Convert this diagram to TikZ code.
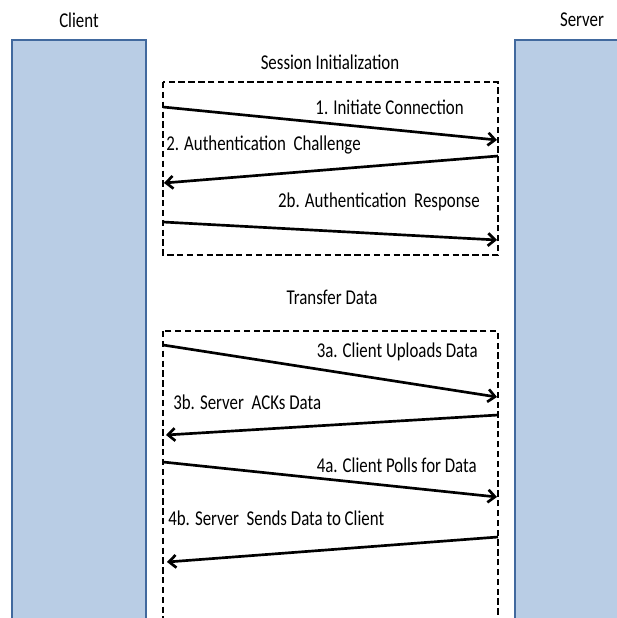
\documentclass[tikz,border=0pt]{standalone}
\usepackage{fontspec}
\setmainfont{Carlito}
\usetikzlibrary{arrows.meta}
\definecolor{hostfill}{HTML}{B9CDE5}
\definecolor{hostline}{HTML}{41699E}
\newcommand{\tallt}[1]{\scalebox{1}[1.25]{#1}}
\begin{document}
\begin{tikzpicture}[x=0.025cm, y=-0.025cm,
		host/.style={draw=hostline, line width=1.4pt, fill=hostfill},
		phase/.style={draw, line width=1.3pt, dash pattern=on 4.5pt off 2.5pt},
		msg/.style={-{Straight Barb[length=5pt,width=9pt]}, line width=1.9pt},
		lbl/.style={font=\fontsize{12}{14}\selectfont, inner sep=0pt}]
			\useasboundingbox (0,0) rectangle (617,618);
			\clip (0,0) rectangle (617,618);

			% hosts
			\draw[host] (12,40) rectangle (146,640);
			\draw[host] (515,40) rectangle (640,640);
			\node[lbl] (client) at (79,20) {\tallt{Client}};
			\node[lbl] (server) at (582,20) {\tallt{Server}};

			% phases
			\node[lbl] (sinit) at (330,62) {\tallt{Session Initialization}};
			\draw[phase] (163,82) rectangle (498,255);
			\node[lbl] (tdata) at (332,297) {\tallt{Transfer Data}};
			\draw[phase] (163,331) rectangle (498,640);

			% end points
			\coordinate (c1) at (163,107); \coordinate (s1) at (497,140);
			\coordinate (s2) at (498,156); \coordinate (c2) at (164,183);
			\coordinate (c3) at (163,222); \coordinate (s3) at (497,240);
			\coordinate (c4) at (163,345); \coordinate (s4) at (497,397);
			\coordinate (s5) at (498,415); \coordinate (c5) at (166,435);
			\coordinate (c6) at (163,462); \coordinate (s6) at (497,497);
			\coordinate (s7) at (498,537); \coordinate (c7) at (167,562);

			\draw[msg] (c1) -- (s1);
			\draw[msg] (s2) -- (c2);
			\draw[msg] (c3) -- (s3);
			\draw[msg] (c4) -- (s4);
			\draw[msg] (s5) -- (c5);
			\draw[msg] (c6) -- (s6);
			\draw[msg] (s7) -- (c7);

			\node[lbl, anchor=east] (m1) at (464,107) {\tallt{1. Initiate Connection}};
			\node[lbl, anchor=west] (m2) at (166,145) {\tallt{2. Authentication\ \ Challenge}};
			\node[lbl, anchor=east] (m2b) at (480,202) {\tallt{2b. Authentication\ \ Response}};
			\node[lbl, anchor=east] (m3a) at (478,352) {\tallt{3a. Client Uploads Data}};
			\node[lbl, anchor=west] (m3b) at (173,402) {\tallt{3b. Server\ \ ACKs Data}};
			\node[lbl, anchor=east] (m4a) at (477,465) {\tallt{4a. Client Polls for Data}};
			\node[lbl, anchor=west] (m4b) at (168,518) {\tallt{4b. Server\ \ Sends Data to Client}};
		\end{tikzpicture}
\end{document}
